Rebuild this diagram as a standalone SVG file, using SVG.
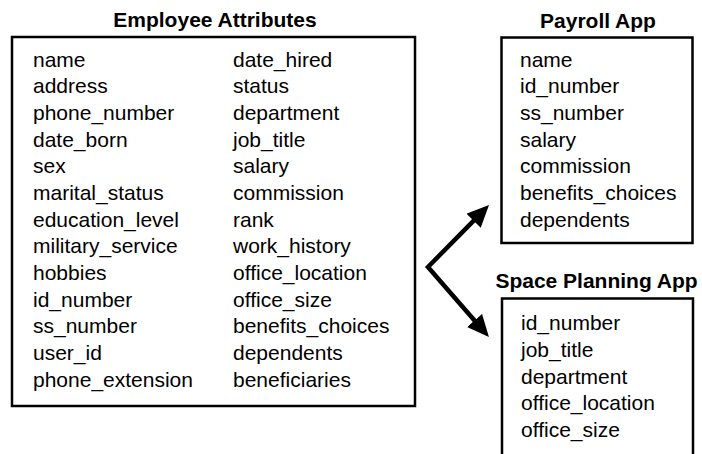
<svg xmlns="http://www.w3.org/2000/svg" width="702" height="454" viewBox="0 0 702 454">
<style>
.box{fill:#fff;stroke:#000;stroke-width:2.5}
.t{font-family:"Liberation Sans",Arial,sans-serif;font-size:21px;fill:#000}
.h{font-family:"Liberation Sans",Arial,sans-serif;font-size:21px;font-weight:bold;fill:#000;text-anchor:middle}
.arrow{fill:none;stroke:#000;stroke-width:4.5;stroke-linejoin:miter}
</style>
<defs>
<marker id="ah" markerUnits="userSpaceOnUse" markerWidth="22" markerHeight="20" refX="9" refY="10" orient="auto-start-reverse" viewBox="0 0 22 20">
<path d="M0,0 L22,10 L0,20 Z" fill="#000"/>
</marker>
</defs>
<rect width="702" height="454" fill="#fff"/>
<g id="employee">
<text class="h" x="215" y="27">Employee Attributes</text>
<rect class="box" x="12" y="37" width="403" height="369"/>
<text class="t" x="33" y="66.7">name</text>
<text class="t" x="33" y="93.35">address</text>
<text class="t" x="33" y="120">phone_number</text>
<text class="t" x="33" y="146.65">date_born</text>
<text class="t" x="33" y="173.3">sex</text>
<text class="t" x="33" y="199.95">marital_status</text>
<text class="t" x="33" y="226.6">education_level</text>
<text class="t" x="33" y="253.25">military_service</text>
<text class="t" x="33" y="279.9">hobbies</text>
<text class="t" x="33" y="306.55">id_number</text>
<text class="t" x="33" y="333.2">ss_number</text>
<text class="t" x="33" y="359.85">user_id</text>
<text class="t" x="33" y="386.5">phone_extension</text>
<text class="t" x="233" y="66.7">date_hired</text>
<text class="t" x="233" y="93.35">status</text>
<text class="t" x="233" y="120">department</text>
<text class="t" x="233" y="146.65">job_title</text>
<text class="t" x="233" y="173.3">salary</text>
<text class="t" x="233" y="199.95">commission</text>
<text class="t" x="233" y="226.6">rank</text>
<text class="t" x="233" y="253.25">work_history</text>
<text class="t" x="233" y="279.9">office_location</text>
<text class="t" x="233" y="306.55">office_size</text>
<text class="t" x="233" y="333.2">benefits_choices</text>
<text class="t" x="233" y="359.85">dependents</text>
<text class="t" x="233" y="386.5">beneficiaries</text>
</g>
<g id="payroll">
<text class="h" x="598" y="28">Payroll App</text>
<rect class="box" x="501.5" y="37.5" width="191" height="205.5"/>
<text class="t" x="520" y="66.7">name</text>
<text class="t" x="520" y="93.35">id_number</text>
<text class="t" x="520" y="120">ss_number</text>
<text class="t" x="520" y="146.65">salary</text>
<text class="t" x="520" y="173.3">commission</text>
<text class="t" x="520" y="199.95">benefits_choices</text>
<text class="t" x="520" y="226.6">dependents</text>
</g>
<g id="space">
<text class="h" x="596.5" y="288">Space Planning App</text>
<rect class="box" x="502" y="298.5" width="191" height="170"/>
<text class="t" x="521" y="330.3">id_number</text>
<text class="t" x="521" y="357">job_title</text>
<text class="t" x="521" y="383.6">department</text>
<text class="t" x="521" y="410.3">office_location</text>
<text class="t" x="521" y="437">office_size</text>
</g>
<g id="connectors">
<path class="arrow" d="M479.9,214.3 L428,267 L480.4,327.3" marker-start="url(#ah)" marker-end="url(#ah)"/>
</g>
</svg>
